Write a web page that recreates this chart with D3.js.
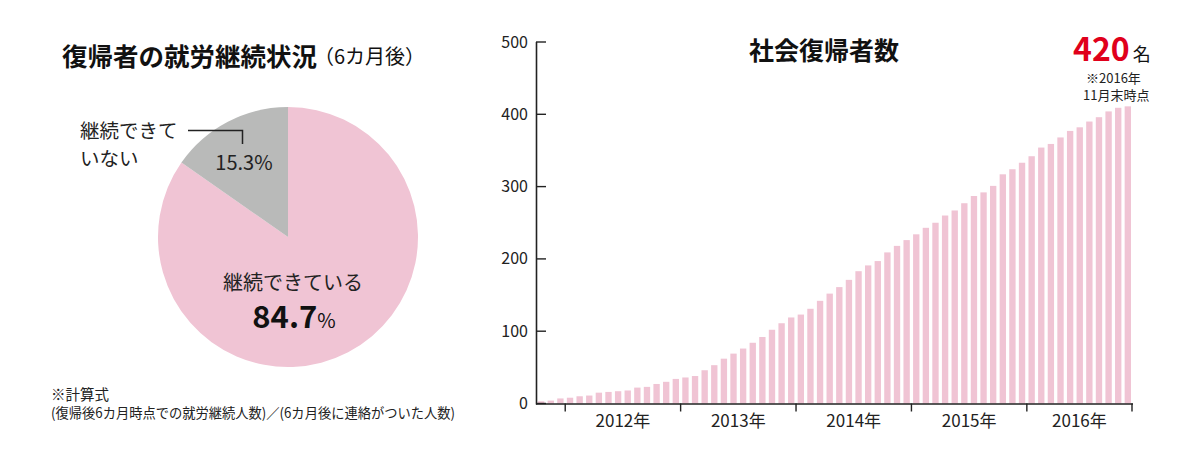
<!DOCTYPE html>
<html><head><meta charset="utf-8">
<script src="https://cdn.jsdelivr.net/npm/d3@7"></script>
<style>
html,body{margin:0;padding:0;background:#fff;}
svg{display:block;font-family:"Noto Sans CJK JP","Noto Sans",sans-serif;}
</style></head>
<body>
<svg id="c" width="1200" height="468"></svg>
<script>
// ---- data ----
const months = ["2011-10","2011-11","2011-12",
"2012-01","2012-02","2012-03","2012-04","2012-05","2012-06","2012-07","2012-08","2012-09","2012-10","2012-11","2012-12",
"2013-01","2013-02","2013-03","2013-04","2013-05","2013-06","2013-07","2013-08","2013-09","2013-10","2013-11","2013-12",
"2014-01","2014-02","2014-03","2014-04","2014-05","2014-06","2014-07","2014-08","2014-09","2014-10","2014-11","2014-12",
"2015-01","2015-02","2015-03","2015-04","2015-05","2015-06","2015-07","2015-08","2015-09","2015-10","2015-11","2015-12",
"2016-01","2016-02","2016-03","2016-04","2016-05","2016-06","2016-07","2016-08","2016-09","2016-10","2016-11"];
const returners = [3,4,7,8,10,11,15,16,17,18,22,23,27,30,34,36,38,46,53,62,69,76,84,92,102,111,119,123,131,142,152,161,171,183,191,197,209,218,226,234,243,250,260,267,277,287,292,301,317,324,333,342,354,359,368,377,382,390,396,404,409,411];
const yearStarts = ["2012-01","2013-01","2014-01","2015-01","2016-01"];
const yearLabels = ["2012年","2013年","2014年","2015年","2016年"];
const yTicks = [0,100,200,300,400,500];
const pieLabels = ["継続できている","継続できていない"];
const pieValues = [84.7,15.3];

const svg = d3.select("#c");
const pink = "#f0c4d4", grey = "#b9bab9";

// ---- pie ----
const pg = svg.append("g").attr("transform","translate(288,237)");
const pie = d3.pie().sort(null).value(d=>d)(pieValues);
const arc = d3.arc().innerRadius(0).outerRadius(130);
pg.selectAll("path").data(pie).join("path").attr("d",arc).attr("fill",(d,i)=>i===0?pink:grey);

svg.append("text").attr("x",62).attr("y",66).attr("font-size",25.5).attr("font-weight",700).attr("fill","#111")
  .text("復帰者の就労継続状況");
svg.append("text").attr("x",314).attr("y",64).attr("font-size",20).attr("fill","#111").text("（6カ月後）");

svg.append("text").attr("x",80).attr("y",138).attr("font-size",19.5).attr("fill","#222").text("継続できて");
svg.append("text").attr("x",80).attr("y",166).attr("font-size",19.5).attr("fill","#222").text("いない");
svg.append("path").attr("d","M188,130.5H242.5V144").attr("fill","none").attr("stroke","#222").attr("stroke-width",1.5);
svg.append("text").attr("x",244).attr("y",170).attr("text-anchor","middle").attr("font-size",20).attr("fill","#222").text(pieValues[1]+"%");

svg.append("text").attr("x",293).attr("y",290).attr("text-anchor","middle").attr("font-size",20).attr("fill","#222").text(pieLabels[0]);
const pt = svg.append("text").attr("x",294).attr("y",328).attr("text-anchor","middle").attr("fill","#111");
pt.append("tspan").attr("font-size",31).attr("font-weight",700).text(pieValues[0]);
pt.append("tspan").attr("font-size",20).text("%");

svg.append("text").attr("x",51).attr("y",400).attr("font-size",14.5).attr("fill","#222").text("※計算式");
svg.append("text").attr("x",51).attr("y",418).attr("font-size",14).attr("fill","#222")
  .attr("textLength",404).attr("lengthAdjust","spacingAndGlyphs")
  .text("(復帰後6カ月時点での就労継続人数)／(6カ月後に連絡がついた人数)");

// ---- bar chart ----
const x = d3.scaleBand().domain(months).range([538,1131]).paddingInner(0.34).paddingOuter(0);
const y = d3.scaleLinear().domain([0,500]).range([403.5,42]);
const gap = x.step()*x.paddingInner();

svg.append("g").selectAll("rect").data(months).join("rect")
  .attr("x",d=>x(d)).attr("width",x.bandwidth())
  .attr("y",(d,i)=>y(returners[i])).attr("height",(d,i)=>y(0)-y(returners[i]))
  .attr("fill",pink);

// y axis
const ya = svg.append("g");
ya.append("line").attr("x1",536.5).attr("x2",536.5).attr("y1",y(500)).attr("y2",y(0)+1).attr("stroke","#222").attr("stroke-width",1.6);
ya.selectAll("line.t").data(yTicks).join("line").attr("class","t")
  .attr("x1",536).attr("x2",546).attr("y1",d=>y(d)).attr("y2",d=>y(d)).attr("stroke","#222").attr("stroke-width",1.4);
ya.selectAll("text").data(yTicks).join("text")
  .attr("x",528).attr("y",d=>y(d)+5.5).attr("text-anchor","end").attr("font-size",16).attr("fill","#222").text(d=>d);

// x axis
const xa = svg.append("g");
xa.append("line").attr("x1",536).attr("x2",1133).attr("y1",y(0)+0.5).attr("y2",y(0)+0.5).attr("stroke","#222").attr("stroke-width",1.6);
const tickXs = yearStarts.map(m=>x(m)-gap/2).concat([1132]);
xa.selectAll("line.t").data(tickXs).join("line").attr("class","t")
  .attr("x1",d=>d).attr("x2",d=>d).attr("y1",y(0)).attr("y2",y(0)+8).attr("stroke","#222").attr("stroke-width",1.4);
xa.selectAll("text").data(yearLabels).join("text")
  .attr("x",(d,i)=>(tickXs[i]+tickXs[i+1])/2).attr("y",427).attr("text-anchor","middle")
  .attr("font-size",17).attr("fill","#222").text(d=>d);

svg.append("text").attr("x",824).attr("y",60).attr("text-anchor","middle").attr("font-size",25).attr("font-weight",700).attr("fill","#111").text("社会復帰者数");

const t420 = svg.append("text").attr("x",1073).attr("y",61).attr("fill","#111");
t420.append("tspan").attr("font-size",32).attr("font-weight",700).attr("fill","#e0001b").text("420");
t420.append("tspan").attr("dx",3).attr("font-size",18).text("名");
svg.append("text").attr("x",1086).attr("y",83).attr("font-size",13).attr("fill","#222").text("※2016年");
svg.append("text").attr("x",1083).attr("y",100).attr("font-size",13).attr("fill","#222").text("11月末時点");
</script>
</body></html>
